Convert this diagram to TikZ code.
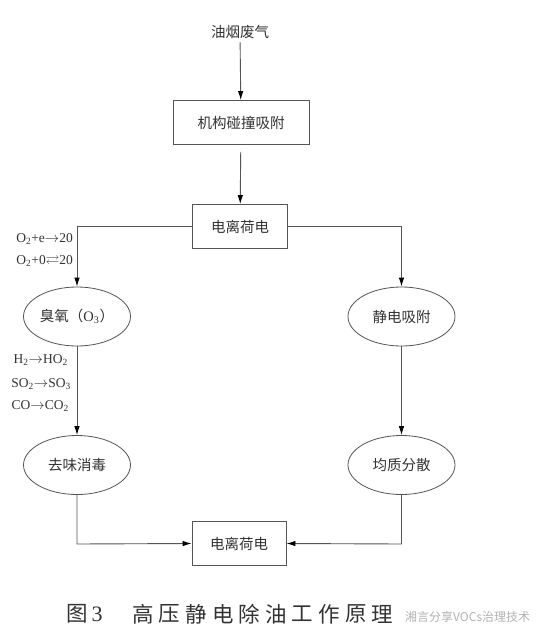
\documentclass[tikz,border=0pt]{standalone}
\usepackage{amssymb}
\usepackage{fontspec}
\setmainfont{Liberation Serif}
\newfontfamily\cjk{Noto Sans CJK SC}
\usetikzlibrary{arrows.meta,shapes.geometric}
\definecolor{ink}{HTML}{333333}
\definecolor{wire}{HTML}{555555}
\begin{document}
\begin{tikzpicture}[x=1pt,y=-1pt,
  box/.style={draw=wire,line width=0.9pt,minimum width=#1,minimum height=44pt,inner sep=0pt,text=ink,font=\cjk\fontsize{14.5}{16}\selectfont},
  oval/.style={ellipse,draw=wire,line width=0.8pt,minimum width=107pt,minimum height=59pt,inner sep=0pt,text=ink,font=\cjk\fontsize{14.5}{16}\selectfont},
  link/.style={draw=wire,line width=0.9pt,-{Latex[length=9pt,width=5.5pt,color=black]}},
  chem/.style={text=ink,font=\fontsize{13.5}{15}\selectfont,inner sep=0pt,anchor=east},
  capc/.style={text=ink,font=\cjk\fontsize{21.5}{24}\selectfont,inner sep=0pt}
]
\useasboundingbox (0,0) rectangle (559,629);
\fill[white] (0,0) rectangle (559,629);

\node[text=ink,font=\cjk\fontsize{14.5}{16}\selectfont] (src) at (240,32) {油烟废气};
\node[box=136pt] (b1) at (241,122.5) {机构碰撞吸附};
\node[box=95pt] (b2) at (240,226.5) {电离荷电};
\node[oval] (e1) at (77,316.5) {臭氧（{\rmfamily O\textsubscript{3}}）};
\node[oval] (e2) at (401.5,316.5) {静电吸附};
\node[oval] (e3) at (77,465) {去味消毒};
\node[oval] (e4) at (401.5,465) {均质分散};
\node[box=94pt] (b3) at (239,543.5) {电离荷电};

\coordinate (tl) at (77,226.5);
\coordinate (tr) at (401.5,226.5);
\coordinate (bl) at (77,544);
\coordinate (br) at (401.5,544);

\draw[link] (src) -- (b1);
\draw[link,shorten <=7pt] (b1) -- (b2);
\draw[link] (b2.west) -- (tl) -- (e1.north);
\draw[link] (b2.east) -- (tr) -- (e2.north);
\draw[link] (e1) -- (e3);
\draw[link] (e2) -- (e4);
\draw[link] (e3.south) -- (bl) -- (b3.west);
\draw[link] (e4.south) -- (br) -- (b3.east);

\node[chem] (r1) at (73,239) {O\textsubscript{2}+e$\to$20};
\node[chem] (r2) at (73,261) {O\textsubscript{2}+0$\rightleftarrows$20};
\node[chem] (r3) at (68,360) {H\textsubscript{2}$\to$HO\textsubscript{2}};
\node[chem] (r4) at (71,384) {SO\textsubscript{2}$\to$SO\textsubscript{3}};
\node[chem] (r5) at (69,406) {CO$\to$CO\textsubscript{2}};

\node[capc] (cfig) at (77,614) {图};
\node[capc,font=\fontsize{22}{24}\selectfont] (cnum) at (97,614.5) {3};
\foreach \ch [count=\i] in {高,压,静,电,除,油,工,作,原,理}
  \node[capc] (cap\i) at ({143+26.6*(\i-1)},614) {\ch};
\node[text=gray!60,font=\cjk\fontsize{12}{14}\selectfont,anchor=west,inner sep=0pt] (wm) at (405,617) {湘言分享VOCs治理技术};
\end{tikzpicture}
\end{document}
